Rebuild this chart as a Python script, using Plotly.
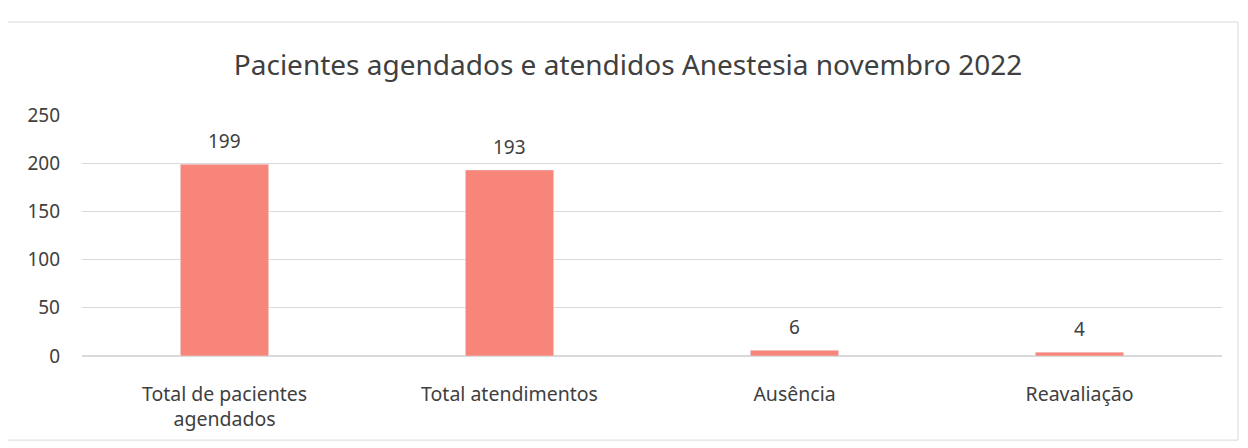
import plotly.graph_objects as go

categories = ["Total de pacientes<br>agendados", "Total atendimentos", "Ausência", "Reavaliação"]
values = [199, 193, 6, 4]
title = "Pacientes agendados e atendidos Anestesia novembro 2022"

fig = go.Figure(go.Bar(
    x=categories, y=values,
    marker=dict(color="#F8857A"),
))
for c, v in zip(categories, values):
    fig.add_annotation(x=c, y=v, text=str(v), showarrow=False, yanchor="bottom",
                       yshift=8, font=dict(size=19, color="#404040"))

fig.update_layout(
    width=1240, height=440,
    margin=dict(l=74, r=26, t=107, b=92),
    paper_bgcolor="white", plot_bgcolor="white",
    font=dict(family="Noto Sans", color="#404040"),
    title=dict(text=title, x=0.5, xanchor="center", y=0.870, yanchor="middle",
               font=dict(size=28, color="#404040")),
    bargap=0.69,
    showlegend=False,
    yaxis=dict(range=[0, 250], dtick=50, showgrid=True, gridcolor="#D9D9D9",
               zeroline=True, zerolinecolor="#D9D9D9", tickfont=dict(size=19),
               ticks="", ticklen=0, showline=False, automargin=False, ticklabelstandoff=21),
    xaxis=dict(tickfont=dict(size=19.5), showline=False, ticks="", ticklabelstandoff=24,
               automargin=False),
    shapes=[dict(type="rect", xref="paper", yref="paper", x0=-0.0667, x1=1.014, y0=-0.349, y1=1.386,
                 line=dict(color="#D9D9D9", width=1))],
)
fig.write_html("out.html")
